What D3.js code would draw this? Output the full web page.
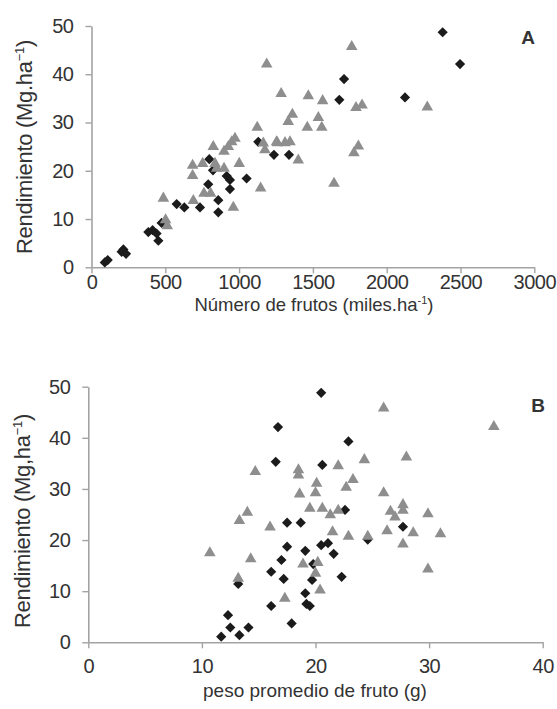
<!DOCTYPE html>
<html>
<head>
<meta charset="utf-8">
<script src="https://d3js.org/d3.v7.min.js"></script>
<style>
  body { margin: 0; background: #fff; }
  svg text { font-family: "Liberation Sans", Arial, sans-serif; fill: #333; }
</style>
</head>
<body>
<script>
'use strict';

(function() {

  // panel A: numero de frutos (miles/ha) vs rendimiento (Mg/ha)
  const frutosDiamond = [90, 110, 204, 216, 234, 385, 414, 441, 453, 475, 577, 629, 735, 798, 823, 791, 859, 859,
    916, 938, 938, 1051, 1130, 1236, 1338, 1679, 1711, 2124, 2379, 2497];
  const rendDiamondA = [1.0, 1.5, 3.2, 3.7, 2.8, 7.3, 7.7, 7.0, 5.5, 9.2, 13.1, 12.4, 12.4, 22.4, 20.1, 17.2, 13.9, 11.4,
    18.9, 18.1, 16.2, 18.4, 26.0, 23.3, 23.3, 34.7, 39.0, 35.2, 48.7, 42.1];

  const frutosTriangle = [487, 502, 513, 685, 685, 690, 753, 762, 807, 825, 837, 848, 898, 898, 927, 950, 972, 1001,
    961, 1123, 1146, 1187, 1164, 1175, 1254, 1285, 1469, 1566, 1763, 1792, 1833, 2275, 1361, 1333, 1537, 1462,
    1560, 1259, 1311, 1345, 1401, 1808, 1778, 1643];
  const rendTriangleA = [14.3, 9.8, 8.6, 21.1, 19.0, 13.8, 21.5, 15.3, 15.3, 25.0, 21.5, 20.5, 20.5, 24.0, 25.0, 26.0, 26.7, 21.5,
    12.4, 29.0, 16.4, 42.1, 25.7, 24.3, 26.0, 36.0, 35.5, 34.5, 45.7, 33.1, 33.6, 33.2, 31.7, 30.2, 31.0, 29.0,
    29.0, 25.8, 25.8, 26.0, 22.2, 25.1, 23.7, 17.4];

  // panel B: peso promedio de fruto (g) vs rendimiento (Mg/ha)
  const pesoDiamond = [16.7, 16.5, 17.5, 18.7, 17.5, 19.1, 17.0, 16.1, 17.2, 13.2, 16.1, 17.9, 12.3, 12.5, 14.1, 13.3,
    11.7, 19.1, 19.2, 19.5, 20.5, 22.9, 20.6, 22.6, 27.7, 20.5, 21.1, 21.6, 19.8, 19.7, 22.3, 24.6];
  const rendDiamondB = [42.1, 35.3, 23.4, 23.4, 18.7, 17.9, 16.1, 13.8, 12.4, 11.4, 7.1, 3.7, 5.3, 2.9, 2.9, 1.4,
    1.1, 9.6, 7.5, 7.1, 48.8, 39.3, 34.7, 25.9, 22.6, 19.0, 19.4, 17.3, 15.3, 12.2, 12.8, 20.1];

  const pesoTriangle = [14.7, 18.5, 18.5, 18.6, 14.0, 13.3, 16.0, 10.7, 14.3, 13.2, 17.3, 18.9, 19.5, 26.0, 24.3, 28.0,
    22.0, 23.3, 22.7, 20.1, 20.0, 26.0, 20.6, 21.3, 22.0, 26.6, 27.0, 27.7, 27.7, 29.9, 31.0, 28.6, 26.3, 21.5,
    22.9, 24.6, 27.7, 20.2, 20.0, 20.4, 29.9, 35.7];
  const rendTriangleB = [33.4, 33.7, 32.7, 29.0, 25.4, 23.8, 22.5, 17.5, 16.3, 12.5, 8.6, 15.3, 26.2, 45.8, 35.7, 36.2,
    34.5, 31.8, 30.3, 31.1, 29.2, 29.2, 26.2, 24.9, 25.8, 25.6, 24.5, 26.9, 25.8, 25.1, 21.2, 21.4, 21.8, 21.6,
    20.7, 20.7, 19.2, 15.6, 13.5, 10.2, 14.3, 42.2];

  const yTicks = [0, 10, 20, 30, 40, 50];
  const xTicksA = [0, 500, 1000, 1500, 2000, 2500, 3000];
  const xTicksB = [0, 10, 20, 30, 40];

  const axisColor = "#a3a3a3";
  const diamondColor = "#1b1b1b";
  const triangleColor = "#8e8e8e";

  let svgContainer = "";

  window.onload = function() {
    svgContainer = d3.select('body')
      .append('svg')
      .attr('width', 557)
      .attr('height', 709);

    // panel A
    let mapA = drawAxes({x0: 91.5, x1: 534.3, y0: 267.3, y1: 26, pad: 2}, [0, 3000], xTicksA);
    plotData(mapA, frutosDiamond, rendDiamondA, frutosTriangle, rendTriangleA);

    // panel B
    let mapB = drawAxes({x0: 88.3, x1: 542.7, y0: 642.3, y1: 386.7, pad: 11}, [0, 40], xTicksB);
    plotData(mapB, pesoDiamond, rendDiamondB, pesoTriangle, rendTriangleB);

    makeLabels();
  }

  // draw axes with gray lines and outward ticks
  function drawAxes(box, xDomain, xTicks) {
    let xScale = d3.scaleLinear().domain(xDomain).range([box.x0, box.x1]);
    let yScale = d3.scaleLinear().domain([0, 50]).range([box.y0, box.y1]);

    let xAxis = d3.axisBottom(xScale).tickValues(xTicks).tickFormat(d3.format('d'))
      .tickSizeInner(6).tickSizeOuter(0).tickPadding(box.pad);
    let gx = svgContainer.append('g')
      .attr('transform', 'translate(0,' + box.y0 + ')')
      .call(xAxis);

    let yAxis = d3.axisLeft(yScale).tickValues(yTicks)
      .tickSizeInner(6).tickSizeOuter(0).tickPadding(12);
    let gy = svgContainer.append('g')
      .attr('transform', 'translate(' + box.x0 + ',0)')
      .call(yAxis);

    [gx, gy].forEach(g => {
      g.select('.domain').attr('stroke', axisColor).attr('stroke-width', 1.6);
      g.selectAll('.tick line').attr('stroke', axisColor).attr('stroke-width', 1.4);
      g.selectAll('.tick text')
        .style('font-size', '20px')
        .style('font-family', '"Liberation Sans", Arial, sans-serif')
        .style('letter-spacing', '-0.5px')
        .attr('fill', '#333');
    });

    return {xScale: xScale, yScale: yScale};
  }

  // diamonds first, triangles drawn on top
  function plotData(map, dx, dy, tx, ty) {
    let diamond = d3.symbol().type(d3.symbolSquare).size(52);
    let triangle = d3.symbol().type(d3.symbolTriangle).size(58);

    svgContainer.append('g').selectAll('path')
      .data(d3.zip(dx, dy))
      .enter()
      .append('path')
        .attr('d', diamond)
        .attr('transform', d => 'translate(' + map.xScale(d[0]) + ',' + map.yScale(d[1]) + ') rotate(45)')
        .attr('fill', diamondColor);

    svgContainer.append('g').selectAll('path')
      .data(d3.zip(tx, ty))
      .enter()
      .append('path')
        .attr('d', triangle)
        .attr('transform', d => 'translate(' + map.xScale(d[0]) + ',' + map.yScale(d[1]) + ')')
        .attr('fill', triangleColor);
  }

  // rotated y title with superscript -1
  function yTitle(x, y, base) {
    let t = svgContainer.append('text')
      .attr('transform', 'translate(' + x + ',' + y + ') rotate(-90)')
      .attr('text-anchor', 'middle')
      .style('font-size', '22px')
      .style('letter-spacing', '-0.3px');
    t.append('tspan').text(base);
    t.append('tspan').attr('dy', -8).style('font-size', '13px').text('\u22121');
    t.append('tspan').attr('dy', 8).text(')');
  }

  function makeLabels() {
    yTitle(32, 147, 'Rendimiento (Mg.ha');
    yTitle(30, 521, 'Rendimiento (Mg,ha');

    let xA = svgContainer.append('text')
      .attr('x', 314)
      .attr('y', 311)
      .attr('text-anchor', 'middle')
      .style('font-size', '18.5px');
    xA.append('tspan').text('Número de frutos (miles.ha');
    xA.append('tspan').attr('dy', -7).style('font-size', '11px').text('-1');
    xA.append('tspan').attr('dy', 7).text(')');

    svgContainer.append('text')
      .attr('x', 315)
      .attr('y', 697)
      .attr('text-anchor', 'middle')
      .style('font-size', '19px')
      .text('peso promedio de fruto (g)');

    // panel letters
    svgContainer.append('text')
      .attr('x', 528)
      .attr('y', 44)
      .attr('text-anchor', 'middle')
      .style('font-size', '19px')
      .style('font-weight', 'bold')
      .attr('fill', '#111')
      .text('A');

    svgContainer.append('text')
      .attr('x', 538)
      .attr('y', 412)
      .attr('text-anchor', 'middle')
      .style('font-size', '19px')
      .style('font-weight', 'bold')
      .attr('fill', '#111')
      .text('B');
  }

})();
</script>
</body>
</html>
